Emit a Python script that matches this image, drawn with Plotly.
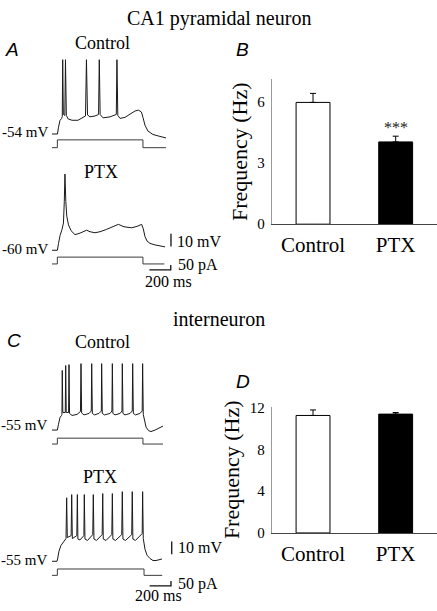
import plotly.graph_objects as go

W, H = 437, 611
SERIF = "Liberation Serif"
SANS = "Liberation Sans"

# ---------------- data ----------------
# Panel A, CA1 pyramidal neuron, Control (time ms, membrane potential mV)
A_ctl_t = [0, 51, 61, 75, 91, 96, 100, 106, 120, 126, 134, 150, 187, 243, 313, 322, 332, 355, 402, 435,
           442, 450, 477, 542, 601, 607, 615, 636, 682, 729, 776, 808, 836, 850, 869, 897, 944, 1009, 1065]
A_ctl_v = [-54, -54, -48.6, -43.2, -41.7, -40.2, 4.5, -38.6, -39.4, 4.5, -39.4, -42.1, -43.2, -43.2, -39.8,
           4.5, -39.0, -40.5, -39.8, -38.6, 4.5, -38.6, -41.3, -40.5, -38.6, 4.5, -39.4, -41.7, -40.9, -38.6,
           -35.9, -35.2, -36.7, -40.9, -47.1, -51.7, -54.4, -55.9, -57.1]
# Panel A, PTX
A_ptx_t = [0, 50, 61, 75, 93, 107, 115, 121, 129, 138, 154, 178, 215, 262, 324, 355, 402, 449, 511, 561,
           620, 673, 745, 794, 838, 853, 869, 888, 916, 963, 1056]
A_ptx_v = [-60, -60, -54.6, -48.5, -43.8, -38.5, -21.5, 0, -21.5, -33.1, -40, -44.6, -47.7, -46.5, -44.2,
           -45.4, -46.2, -45.4, -43.5, -41.9, -39.6, -41.5, -42.3, -41.2, -39.6, -43.1, -49.2, -52.7, -54.6,
           -55.8, -57.3]
# Panel C, interneuron, Control
C_ctl_t = [0, 50, 61, 75, 89, 93, 96, 101, 124, 128, 133, 155, 159, 164, 187, 234, 266, 271, 277, 299,
           346, 367, 371, 377, 397, 439, 461, 464, 470, 491, 542, 560, 564, 569, 589, 636, 654, 657, 663, 682,
           729, 750, 754, 760, 780, 822, 843, 847, 853, 864, 879, 902, 925, 963, 1037]
C_ctl_v = [-55, -55, -50.4, -45, -43.5, -42.7, -8.1, -41.2, -41.2, -4.2, -41.2, -41.2, -3.5, -41.9, -43.5,
           -42.7, -40.4, -2.7, -41.5, -43.1, -41.9, -40, -2.7, -41.9, -43.1, -41.9, -40, -2.7, -41.9, -43.1,
           -41.9, -40, -2.7, -41.9, -43.1, -41.9, -40, -2.7, -41.9, -43.1, -41.9, -40, -2.7, -41.9, -43.1,
           -41.9, -40, -2.7, -42.7, -48.1, -52.7, -55.4, -56.2, -55, -51.9]
# Panel C, PTX
C_ptx_t = [0, 47, 54, 65, 84, 107, 131, 137, 143, 179, 184, 190, 232, 237, 242, 262, 298, 302, 308, 332,
           381, 386, 392, 416, 469, 474, 479, 505, 559, 564, 569, 593, 652, 657, 663, 687, 745, 750, 756, 780,
           843, 847, 853, 869, 888, 916, 944, 972, 1028]
C_ptx_v = [-55, -55, -52.5, -47.1, -42.5, -39.4, -37.1, -5, -36.3, -34.8, -2.5, -37.1, -34.8, -2.5, -37.5,
           -38.2, -34.8, -2.5, -37.5, -38.6, -34, -2.5, -37.5, -38.6, -34, -1.7, -37.5, -38.6, -34, -1.7,
           -37.5, -38.6, -34, -0.2, -37.5, -38.6, -34, -0.2, -37.5, -38.6, -33.2, -0.2, -37.1, -45.5, -50.2,
           -52.8, -54.4, -54.4, -53.2]
# injected current steps (time ms, current pA)
A_ctl_it = [0, 50, 50, 850, 850, 1065]
A_ctl_i = [0, 0, 80, 80, 0, 0]
A_ptx_it = [0, 50, 50, 850, 850, 1050]
A_ptx_i = [0, 0, 70, 70, 0, 0]
C_ctl_it = [0, 50, 50, 850, 850, 1037]
C_ctl_i = [0, 0, 60, 60, 0, 0]
C_ptx_it = [0, 50, 50, 860, 860, 1030]
C_ptx_i = [0, 0, 65, 65, 0, 0]

# scale bars: 10 mV, 50 pA, 200 ms
SB_A_t, SB_A_v = [1112, 1112], [-57, -47]
SB_A_it, SB_A_i = [910, 1110, 1110], [-60, -60, -10]
SB_C_t, SB_C_v = [1119, 1119], [-49.5, -39.5]
SB_C_it, SB_C_i = [912, 1112, 1112], [-108, -108, -58]

# bar charts: firing frequency (Hz)
bar_cats = ["Control", "PTX"]
B_freq = [5.95, 4.02]
B_sem = [0.44, 0.28]
D_freq = [11.27, 11.40]
D_sem = [0.53, 0.15]
B_ticks = [0, 3, 6]
D_ticks = [0, 4, 8, 12]

# ---------------- layout helpers ----------------
PX_PER_MS = 0.107
T0_PX = 52
PX_PER_MV = 1.3
PX_PER_PA = 0.1


def ydom(top, bot):
    return [1 - bot / H, 1 - top / H]


def yrange(top, bot, base_px, base_val, ppu):
    return [base_val - (bot - base_px) / ppu, base_val + (base_px - top) / ppu]


hidden = dict(visible=False, showgrid=False, zeroline=False, fixedrange=True)

fig = go.Figure()

VCOL = "#1a1a1a"
ICOL = "#3a3a3a"


def line(t, y, yax, color=VCOL, width=1.0):
    fig.add_trace(go.Scatter(x=t, y=y, xaxis="x", yaxis=yax, mode="lines",
                             line=dict(color=color, width=width), hoverinfo="skip", showlegend=False))


line(A_ctl_t, A_ctl_v, "y")
line(A_ctl_it, A_ctl_i, "y2", ICOL)
line(A_ptx_t, A_ptx_v, "y3")
line(A_ptx_it, A_ptx_i, "y4", ICOL)
line(C_ctl_t, C_ctl_v, "y5")
line(C_ctl_it, C_ctl_i, "y6", ICOL)
line(C_ptx_t, C_ptx_v, "y7")
line(C_ptx_it, C_ptx_i, "y8", ICOL)
line(SB_A_t, SB_A_v, "y3", "#111", 1.3)
line(SB_A_it, SB_A_i, "y4", "#111", 1.3)
line(SB_C_t, SB_C_v, "y7", "#111", 1.3)
line(SB_C_it, SB_C_i, "y8", "#111", 1.3)

for freq, sem, xa, ya in [(B_freq, B_sem, "x2", "y9"), (D_freq, D_sem, "x3", "y10")]:
    fig.add_trace(go.Bar(
        x=bar_cats, y=freq, xaxis=xa, yaxis=ya, width=0.41,
        marker=dict(color=["white", "black"], line=dict(color="black", width=1)),
        error_y=dict(type="data", symmetric=False, array=sem, arrayminus=[0, 0],
                     color="black", thickness=1, width=3),
        hoverinfo="skip", showlegend=False))

layout = dict(
    width=W, height=H, margin=dict(l=0, r=0, t=0, b=0),
    paper_bgcolor="white", plot_bgcolor="rgba(0,0,0,0)",
    font=dict(family=SERIF, color="black"),
    xaxis=dict(domain=[0, 218 / W], range=[(0 - T0_PX) / PX_PER_MS, (218 - T0_PX) / PX_PER_MS],
               anchor="y", **hidden),
)

vax = [  # (name, top, bot, base_px, base_val, ppu)
    ("yaxis", 45, 140, 131, -54, PX_PER_MV),
    ("yaxis2", 130, 152, 145, 0, PX_PER_PA),
    ("yaxis3", 160, 256, 250, -60, PX_PER_MV),
    ("yaxis4", 250, 280, 264, 0, PX_PER_PA),
    ("yaxis5", 355, 441, 434, -55, PX_PER_MV),
    ("yaxis6", 435, 455, 448.3, 0, PX_PER_PA),
    ("yaxis7", 488, 575, 568.3, -55, PX_PER_MV),
    ("yaxis8", 570, 600, 582.7, 0, PX_PER_PA),
]
for name, top, bot, bpx, bval, ppu in vax:
    layout[name] = dict(domain=ydom(top, bot), range=yrange(top, bot, bpx, bval, ppu), anchor="x", **hidden)

BAR_L, BAR_R = 271.7, 437


def bar_axes(xname, yname, yanchor, xanchor, top, bot, ymax, ticks):
    layout[xname] = dict(domain=[BAR_L / W, BAR_R / W], range=[-0.5, 1.5], type="category",
                         anchor=yanchor, showline=True, linecolor="#444", linewidth=1,
                         ticks="", showgrid=False, zeroline=False, ticklabelstandoff=2,
                         tickfont=dict(family=SERIF, size=21, color="black"), fixedrange=True)
    layout[yname] = dict(domain=ydom(top, bot), range=[0, ymax], anchor=xanchor,
                         showline=True, linecolor="#9a9a9a", linewidth=1, ticks="",
                         tickvals=ticks, showgrid=False, zeroline=False, ticklabelstandoff=3,
                         tickfont=dict(family=SERIF, size=15, color="black"),
                         title=dict(text="Frequency (Hz)", font=dict(family=SERIF, size=22), standoff=3),
                         fixedrange=True)


bar_axes("xaxis2", "yaxis9", "y9", "x2", 75, 223.3, 7.08, B_ticks)
bar_axes("xaxis3", "yaxis10", "y10", "x3", 410, 539.3, 12.12, D_ticks)

ann = []


def text(s, x, y, size, xanchor="center", family=SERIF, italic=False):
    t = f"<i>{s}</i>" if italic else s
    ann.append(dict(text=t, x=x / W, y=1 - y / H, xref="paper", yref="paper", xanchor=xanchor,
                    yanchor="middle", showarrow=False, font=dict(family=family, size=size, color="black")))


text("CA1 pyramidal neuron", 218.5, 12.5, 20)
text("interneuron", 219, 320, 20)
text("A", 3, 45, 19, "left", SANS, True)
text("B", 234, 45, 19, "left", SANS, True)
text("C", 5, 342, 19, "left", SANS, True)
text("D", 234, 384, 19, "left", SANS, True)
text("Control", 102, 37.5, 18)
text("PTX", 101, 170, 18)
text("Control", 102.5, 343.5, 18)
text("PTX", 100, 482.5, 18)
text("-54 mV", 50, 128.5, 15, "right")
text("-60 mV", 49.5, 248.5, 15, "right")
text("-55 mV", 49, 429, 15, "right")
text("-55 mV", 49, 566.5, 15, "right")
text("10 mV", 174.5, 241, 16, "left")
text("50 pA", 176, 265, 16, "left")
text("200 ms", 168.5, 282, 16)
text("10 mV", 176, 554, 16, "left")
text("50 pA", 176, 591.5, 16, "left")
text("200 ms", 158.5, 603.5, 16)

ann.append(dict(text="***", x="PTX", y=B_freq[1] + B_sem[1], xref="x2", yref="y9",
                xanchor="center", yanchor="bottom", yshift=-2, showarrow=False,
                font=dict(family=SERIF, size=16, color="#222")))

layout["annotations"] = ann
fig.update_layout(**layout)
fig.write_html("out.html", config={"displayModeBar": False, "staticPlot": True},
               post_script="document.body.style.margin='0';document.body.style.overflow='hidden';")
